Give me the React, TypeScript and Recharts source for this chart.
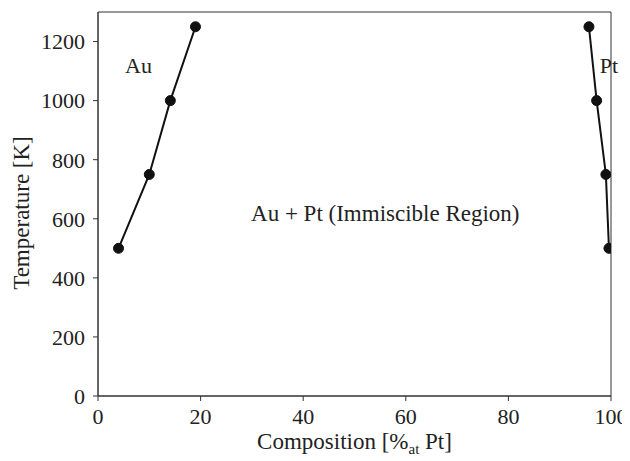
import { LineChart, Line, XAxis, YAxis, ReferenceArea, ReferenceDot, Label } from 'recharts';

const auComposition = [4, 10, 14.1, 19];
const ptComposition = [95.7, 97.2, 99, 99.6];
const auTemperature = [500, 750, 1000, 1250];
const ptTemperature = [1250, 1000, 750, 500];
const xTicks = [0, 20, 40, 60, 80, 100];
const yTicks = [0, 200, 400, 600, 800, 1000, 1200];

const auData = auComposition.map((x, i) => ({ x, t: auTemperature[i] }));
const ptData = ptComposition.map((x, i) => ({ x, t: ptTemperature[i] }));

const FONT = '"Liberation Serif", "DejaVu Serif", serif';
const TXT = '#222';

const XTitle = (props: any) => {
  const { viewBox } = props;
  const cx = viewBox.x + viewBox.width / 2;
  const cy = viewBox.y + 53;
  return (
    <text x={cx} y={cy} textAnchor="middle" fontFamily={FONT} fontSize={23} fill={TXT}>
      Composition [%
      <tspan fontSize={15} dy={5}>at</tspan>
      <tspan dy={-5}> Pt]</tspan>
    </text>
  );
};

const YTitle = (props: any) => {
  const { viewBox } = props;
  const cx = 13;
  const cy = viewBox.y + viewBox.height / 2 + 9;
  return (
    <text
      x={cx}
      y={cy}
      transform={`rotate(-90 ${cx} ${cy})`}
      textAnchor="middle"
      dominantBaseline="central"
      fontFamily={FONT}
      fontSize={23}
      fill={TXT}
    >
      Temperature [K]
    </text>
  );
};

const App = () => {
  return (
    <div style={{ width: 622, height: 453, background: '#fff' }}>
      <LineChart
        width={622}
        height={453}
        margin={{ top: 4, right: 19, left: 0, bottom: 0 }}
        style={{ fontFamily: FONT }}
      >
        <XAxis
          type="number"
          dataKey="x"
          domain={[0, 100]}
          ticks={xTicks}
          allowDataOverflow
          height={65}
          stroke="#333"
          tickSize={5}
          tick={{ fill: TXT, fontSize: 22, fontFamily: FONT }}
          tickMargin={7}
        >
          <Label content={<XTitle />} />
        </XAxis>
        <YAxis
          type="number"
          dataKey="t"
          domain={[0, 1300]}
          ticks={yTicks}
          allowDataOverflow
          width={90}
          stroke="#333"
          tickSize={5}
          tick={{ fill: TXT, fontSize: 22, fontFamily: FONT }}
          tickMargin={8}
        >
          <Label content={<YTitle />} />
        </YAxis>
        <ReferenceArea x1={0} x2={100} y1={0} y2={1300} fill="none" stroke="#333" strokeWidth={1} />
        <Line
          data={auData}
          dataKey="t"
          stroke="#111"
          strokeWidth={2}
          dot={{ r: 5, fill: '#111', stroke: '#111', strokeWidth: 1 }}
          isAnimationActive={false}
        />
        <Line
          data={ptData}
          dataKey="t"
          stroke="#111"
          strokeWidth={2}
          dot={{ r: 5, fill: '#111', stroke: '#111', strokeWidth: 1 }}
          isAnimationActive={false}
        />
        <ReferenceDot x={7.9} y={1119} r={0} ifOverflow="visible"
          label={{ value: 'Au', position: 'center', fontSize: 22, fontFamily: FONT, fill: TXT }} />
        <ReferenceDot x={99.6} y={1119} r={0} ifOverflow="visible"
          label={{ value: 'Pt', position: 'center', fontSize: 22, fontFamily: FONT, fill: TXT }} />
        <ReferenceDot x={56} y={619} r={0} ifOverflow="visible"
          label={{ value: 'Au + Pt (Immiscible Region)', position: 'center', fontSize: 23, fontFamily: FONT, fill: TXT }} />
      </LineChart>
    </div>
  );
};

export default App;
